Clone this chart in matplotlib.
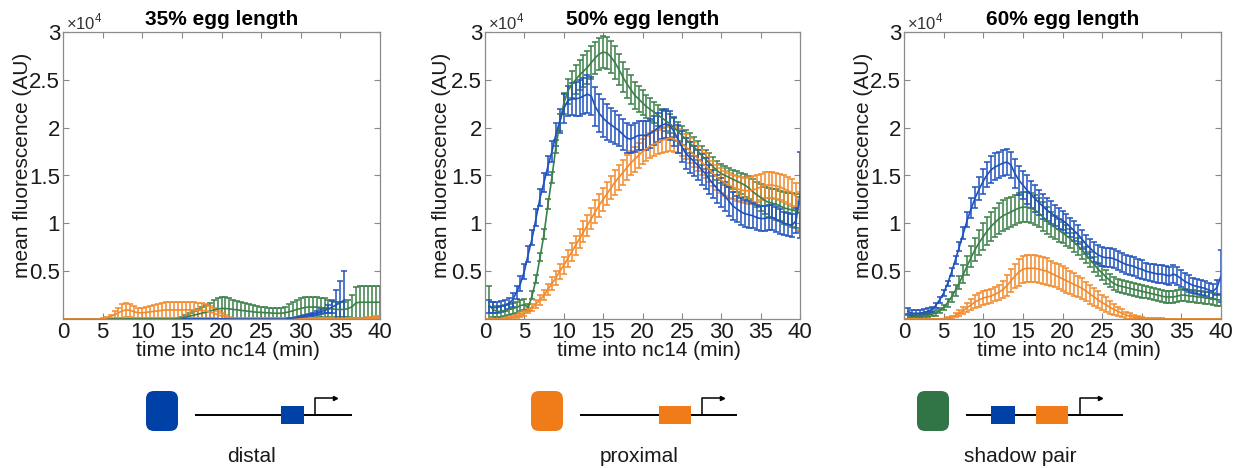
import numpy as np
import matplotlib.pyplot as plt
from matplotlib.patches import FancyBboxPatch, Rectangle

plt.rcParams['font.family'] = ['Liberation Sans', 'DejaVu Sans']
plt.rcParams['mathtext.fontset'] = 'custom'
plt.rcParams['mathtext.rm'] = 'Liberation Sans'

nan = np.nan
# time into nc14 (min), one frame every 30 s
t = np.arange(1, 81) * 0.5

# mean fluorescence in thousands of AU, 80 frames per series
# ---------------- 35% egg length ----------------
dist_35 = [nan]*10 + [nan]*10 + [nan]*9 + [0] + [0]*10 + [0]*10 + \
    [0, 0, 0, 0, 0, 0, 0.05, 0.1, 0.15, 0.2] + \
    [0.3, 0.4, 0.5, 0.6, 0.75, 0.9, 1.05, 1.25, 1.5, 1.7] + [2.0] + [nan]*9
dist_35_err = [nan]*29 + [0] + [0]*20 + \
    [0, 0, 0, 0, 0, 0, 0.05, 0.05, 0.1, 0.1] + \
    [0.1, 0.1, 0.15, 0.2, 0.25, 0.3, 0.4, 0.6, 1.5, 2.3] + [3.0] + [nan]*9
prox_35 = [0, 0, 0, 0, 0, 0, 0, 0, 0, 0.05,
           0.1, 0.25, 0.45, 0.65, 0.85, 0.95, 0.9, 0.75, 0.65, 0.65,
           0.7, 0.75, 0.8, 0.85, 0.9, 0.95, 0.95, 0.95, 0.95, 0.95,
           0.95, 0.95, 0.95, 0.9, 0.9, 0.85, 0.75, 0.6, 0.45, 0.3,
           0.2, 0.1, 0.05, 0.05, 0.05, 0.05, 0.05, 0.05, 0.05, 0.05] + [0.05]*20 + \
          [0.05, 0.05, 0.05, 0.05, 0.05, 0.05, 0.1, 0.1, 0.15, 0.15]
prox_35_err = [0, 0, 0, 0, 0, 0, 0, 0, 0, 0.05,
               0.1, 0.2, 0.35, 0.55, 0.7, 0.75, 0.7, 0.6, 0.55, 0.55,
               0.6, 0.65, 0.7, 0.75, 0.8, 0.8, 0.8, 0.8, 0.8, 0.8,
               0.8, 0.8, 0.8, 0.75, 0.75, 0.7, 0.6, 0.5, 0.4, 0.3,
               0.2, 0.15, 0.1, 0.1, 0.1, 0.1, 0.1, 0.1, 0.1, 0.1] + [0.1]*28 + [0.15, 0.15]
shad_35 = [0]*20 + [0, 0, 0, 0, 0, 0, 0, 0, 0.05, 0.1,
                    0.2, 0.3, 0.4, 0.5, 0.6, 0.7, 0.8, 0.95, 1.05, 1.1,
                    1.1, 1.05, 1.0, 0.95, 0.9, 0.85, 0.8, 0.75, 0.7, 0.7,
                    0.65, 0.65, 0.6, 0.6, 0.6, 0.65, 0.75, 0.85, 1.0, 1.1,
                    1.2, 1.25, 1.25, 1.25, 1.2, 1.15, 1.1, 1.05, 1.0, 1.0,
                    1.0, 1.1, 1.3, 1.7, 1.75, 1.75, 1.75, 1.75, 1.75, 1.75]
shad_35_err = [0]*20 + [0, 0, 0, 0, 0, 0, 0, 0, 0.05, 0.1,
                        0.2, 0.3, 0.4, 0.55, 0.7, 0.8, 0.9, 1.0, 1.1, 1.15,
                        1.15, 1.1, 1.0, 0.95, 0.9, 0.85, 0.8, 0.7, 0.65, 0.6,
                        0.6, 0.55, 0.5, 0.5, 0.55, 0.65, 0.8, 0.9, 1.0, 1.05,
                        1.1, 1.1, 1.1, 1.1, 1.0, 1.0, 0.9, 0.9, 0.8, 0.8,
                        0.8, 0.9, 1.2, 1.6, 1.65, 1.65, 1.7, 1.7, 1.7, 1.7]

# ---------------- 50% egg length ----------------
dist_50 = [1.3, 1.2, 1.2, 1.3, 1.4, 1.6, 2.0, 2.8, 3.7, 5.0,
           6.8, 8.5, 10.6, 12.7, 14.3, 16.0, 17.5, 19.3, 20.7, 22.0,
           22.8, 23.0, 23.0, 23.1, 23.3, 23.5, 23.3, 22.2, 21.5, 21.0,
           20.6, 20.3, 20.0, 19.7, 19.3, 18.9, 18.8, 19.0, 19.2, 19.2,
           19.2, 19.4, 19.7, 20.0, 20.3, 20.4, 20.2, 19.6, 18.8, 18.0,
           17.3, 16.9, 16.5, 16.1, 15.6, 15.2, 14.6, 14.1, 13.6, 13.2,
           12.8, 12.3, 11.8, 11.5, 11.2, 11.0, 10.9, 10.8, 10.6, 10.5,
           10.5, 10.6, 10.6, 10.4, 10.2, 10.0, 9.9, 9.8, 10.3, 13.0]
dist_50_err = [0.7, 0.6, 0.6, 0.6, 0.6, 0.6, 0.7, 0.7, 0.8, 0.8,
               0.8, 0.8, 0.9, 0.9, 1.0, 1.0, 1.1, 1.2, 1.3, 1.5,
               1.6, 1.7, 1.8, 1.9, 1.9, 2.0, 2.0, 2.0, 2.0, 2.0,
               1.9, 1.8, 1.7, 1.6, 1.6, 1.6, 1.5, 1.5, 1.5, 1.5,
               1.5, 1.5, 1.5, 1.5, 1.5, 1.5, 1.5, 1.5, 1.5, 1.6,
               1.6, 1.6, 1.6, 1.6, 1.6, 1.6, 1.5, 1.5, 1.5, 1.5,
               1.5, 1.5, 1.5, 1.4, 1.4, 1.4, 1.4, 1.3, 1.3, 1.3,
               1.3, 1.3, 1.3, 1.3, 1.3, 1.2, 1.2, 1.2, 1.3, 4.5]
prox_50 = [0.0, 0.0, 0.0, 0.0, 0.1, 0.1, 0.2, 0.3, 0.4, 0.6,
           0.9, 1.2, 1.6, 2.0, 2.5, 3.1, 3.7, 4.3, 5.0, 5.6,
           6.3, 7.0, 7.7, 8.4, 9.1, 9.8, 10.5, 11.2, 11.9, 12.5,
           13.1, 13.7, 14.3, 14.8, 15.3, 15.8, 16.3, 16.7, 17.1, 17.5,
           17.8, 18.1, 18.3, 18.5, 18.7, 18.8, 18.9, 18.8, 18.6, 18.3,
           18.0, 17.6, 17.2, 16.8, 16.4, 16.0, 15.6, 15.2, 14.8, 14.5,
           14.2, 14.0, 13.8, 13.6, 13.5, 13.4, 13.4, 13.5, 13.6, 13.8,
           14.0, 14.0, 14.0, 13.9, 13.8, 13.6, 13.4, 13.2, 12.8, 11.3]
prox_50_err = [0.0, 0.0, 0.0, 0.0, 0.05, 0.1, 0.1, 0.15, 0.2, 0.25,
               0.3, 0.35, 0.4, 0.5, 0.55, 0.6, 0.7, 0.75, 0.8, 0.85,
               0.9, 0.95, 1.0, 1.0, 1.1, 1.1, 1.1, 1.2, 1.2, 1.2,
               1.2, 1.2, 1.3, 1.3, 1.3, 1.3, 1.3, 1.3, 1.3, 1.3] + [1.3]*26 + \
              [1.4, 1.4, 1.4, 1.4] + [1.4]*9 + [2.0]
shad_50 = [1.5, 1.0, 0.8, 0.8, 0.9, 1.0, 1.1, 1.2, 1.4, 1.5,
           1.2, 2.5, 4.2, 6.5, 8.9, 12.0, 14.8, 18.0, 20.5, 22.5,
           23.8, 24.5, 25.0, 25.5, 25.9, 26.3, 26.8, 27.3, 27.7, 27.9,
           27.8, 27.4, 26.8, 26.1, 25.3, 24.6, 24.0, 23.4, 23.0, 22.6,
           22.2, 21.9, 21.6, 21.3, 21.0, 20.7, 20.4, 20.0, 19.6, 19.2,
           18.8, 18.4, 18.0, 17.6, 17.1, 16.7, 16.3, 15.9, 15.5, 15.2,
           15.0, 14.8, 14.6, 14.4, 14.2, 14.0, 13.7, 13.3, 13.0, 12.7,
           12.4, 12.2, 12.1, 12.0, 11.8, 11.6, 11.5, 11.4, 11.3, 11.0]
shad_50_err = [2.0, 0.8, 0.6, 0.6, 0.6, 0.6, 0.6, 0.6, 0.6, 0.6,
               0.4, 0.4, 0.4, 0.4, 0.5, 0.5, 0.6, 0.7, 0.9, 1.1,
               1.3, 1.4, 1.5, 1.6, 1.7, 1.7, 1.7, 1.7, 1.7, 1.7,
               1.7, 1.7, 1.7, 1.6, 1.6, 1.5, 1.5, 1.4, 1.4, 1.3,
               1.2, 1.2, 1.1, 1.1, 1.0, 1.0, 1.0, 1.0, 1.0, 1.0] + [1.0]*10 + \
              [1.0, 1.0, 1.0, 1.1, 1.1, 1.2, 1.2, 1.3, 1.3, 1.4,
               1.4, 1.5, 1.5, 1.6, 1.6, 1.7, 1.7, 1.8, 1.8, 1.8]

# ---------------- 60% egg length ----------------
dist_60 = [0.8, 0.6, 0.6, 0.6, 0.7, 0.8, 1.0, 1.4, 2.0, 2.7,
           3.7, 4.9, 6.2, 7.6, 9.0, 10.4, 11.6, 12.7, 13.6, 14.4,
           15.1, 15.6, 15.9, 16.1, 16.3, 16.4, 16.1, 15.2, 14.5, 14.0,
           13.5, 13.0, 12.6, 12.2, 11.8, 11.4, 11.1, 10.8, 10.5, 10.3,
           10.0, 9.6, 9.2, 8.8, 8.3, 7.8, 7.4, 7.0, 6.7, 6.5,
           6.4, 6.4, 6.3, 6.1, 5.9, 5.7, 5.6, 5.5, 5.3, 5.2,
           5.0, 4.9, 4.8, 4.7, 4.7, 4.6, 4.5, 4.7, 4.5, 4.2,
           3.9, 3.7, 3.5, 3.4, 3.3, 3.2, 3.0, 2.9, 3.3, 4.5]
dist_60_err = [0.3]*10 + [0.3, 0.4, 0.4, 0.5, 0.6, 0.8, 1.0, 1.1, 1.2, 1.3,
                          1.3, 1.4, 1.4, 1.4, 1.4, 1.4, 1.4, 1.5, 1.5, 1.5,
                          1.5, 1.4, 1.4, 1.3, 1.3, 1.2, 1.2, 1.1, 1.1, 1.0] + \
              [1.0]*20 + [0.9]*10 + [0.9, 0.9, 0.8, 0.8, 0.8, 0.8, 0.8, 0.8, 0.8, 2.7]
prox_60 = [0]*9 + [0.05,
           0.1, 0.2, 0.4, 0.6, 0.9, 1.2, 1.5, 1.8, 2.0, 2.2,
           2.3, 2.4, 2.6, 2.8, 3.1, 3.5, 4.0, 4.5, 4.9, 5.2,
           5.3, 5.3, 5.3, 5.2, 5.1, 5.0, 4.8, 4.6, 4.4, 4.2,
           4.0, 3.8, 3.6, 3.4, 3.2, 2.9, 2.6, 2.3, 2.0, 1.7,
           1.5, 1.2, 1.0, 0.8, 0.6, 0.4, 0.3, 0.2, 0.15, 0.1] + [0.05]*5 + [0]*15
prox_60_err = [0]*10 + [0.1, 0.15, 0.2, 0.3, 0.4, 0.5, 0.6, 0.7, 0.7, 0.7,
                        0.7, 0.7, 0.7, 0.8, 0.9, 1.1, 1.2, 1.3, 1.4, 1.4,
                        1.4, 1.4, 1.4, 1.4, 1.4, 1.4, 1.3, 1.3, 1.3, 1.3,
                        1.3, 1.2, 1.2, 1.1, 1.1, 1.0, 1.0, 0.9, 0.9, 0.8,
                        0.8, 0.7, 0.6, 0.5, 0.4, 0.35, 0.3, 0.2, 0.15, 0.1] + [0.05]*5 + [0]*15
shad_60 = [0.2, 0.2, 0.3, 0.3, 0.4, 0.4, 0.5, 0.6, 0.9, 1.2,
           1.7, 2.3, 3.0, 3.8, 4.7, 5.6, 6.5, 7.3, 8.0, 8.6,
           9.2, 9.7, 10.1, 10.5, 10.8, 11.0, 11.2, 11.4, 11.6, 11.7,
           11.7, 11.6, 11.4, 11.1, 10.7, 10.3, 9.9, 9.6, 9.3, 9.0,
           8.7, 8.4, 8.0, 7.6, 7.2, 6.7, 6.2, 5.7, 5.2, 4.8,
           4.4, 4.0, 3.7, 3.5, 3.4, 3.3, 3.2, 3.1, 3.0, 2.9,
           2.8, 2.7, 2.6, 2.5, 2.4, 2.3, 2.3, 2.3, 2.4, 2.5,
           2.5, 2.4, 2.4, 2.3, 2.3, 2.2, 2.2, 2.1, 2.0, 2.0]
shad_60_err = [0.2, 0.2, 0.2, 0.2, 0.2, 0.2, 0.2, 0.3, 0.3, 0.3,
               0.4, 0.5, 0.6, 0.7, 0.9, 1.0, 1.1, 1.2, 1.3, 1.4,
               1.5, 1.5, 1.5, 1.6, 1.6, 1.6, 1.6, 1.6, 1.6, 1.6,
               1.6, 1.6, 1.6, 1.5, 1.5, 1.4, 1.3, 1.2, 1.2, 1.1,
               1.1, 1.0, 1.0, 0.9, 0.9, 0.8, 0.8, 0.8, 0.7, 0.7] + [0.7]*10 + [0.6]*20

panels = ['35% egg length', '50% egg length', '60% egg length']
means = [(shad_35, prox_35, dist_35), (shad_50, prox_50, dist_50), (shad_60, prox_60, dist_60)]
errs = [(shad_35_err, prox_35_err, dist_35_err), (shad_50_err, prox_50_err, dist_50_err),
        (shad_60_err, prox_60_err, dist_60_err)]
line_colors = ['#3b8049', '#f28a2a', '#1f52bd']   # shadow pair, proximal, distal

constructs = ['distal', 'proximal', 'shadow pair']
construct_colors = ['#0041a8', '#f07c19', '#317547']

yticks = [0.5, 1, 1.5, 2, 2.5, 3]
xticks = [0, 5, 10, 15, 20, 25, 30, 35, 40]

W, H = 1237, 468
fig = plt.figure(figsize=(W / 100, H / 100), dpi=100)

# axes boxes in pixels: left, right
boxes = [(63, 380), (485, 800), (904, 1221)]
ylab_x = [-0.097, -0.108, -0.099]
top_px, bot_px = 32, 319
for i, (l, r) in enumerate(boxes):
    ax = fig.add_axes([l / W, 1 - bot_px / H, (r - l) / W, (bot_px - top_px) / H])
    for m, e, c in zip(means[i], errs[i], line_colors):
        ax.errorbar(t, np.array(m) * 1000, yerr=np.array(e) * 1000, color=c, lw=1.2,
                    elinewidth=1.1, capsize=2.2, capthick=1.1)
    ax.set_xlim(0, 40)
    ax.set_ylim(0, 30000)
    ax.set_xticks(xticks)
    ax.set_yticks([v * 1e4 for v in yticks])
    ax.set_yticklabels(['%g' % v for v in yticks])
    ax.tick_params(direction='in', top=True, right=True, length=4, width=0.8,
                   color='#888888', labelsize=16, labelcolor='#1a1a1a', pad=2)
    for s in ax.spines.values():
        s.set_color('#8c8c8c')
        s.set_linewidth(0.9)
    ax.set_title(panels[i], fontsize=15, fontweight='bold', pad=5)
    ax.set_xlabel('time into nc14 (min)', fontsize=15, color='#1a1a1a')
    ax.set_ylabel('mean fluorescence (AU)', fontsize=15, color='#1a1a1a')
    ax.xaxis.set_label_coords(0.52, -0.075)
    ax.yaxis.set_label_coords(ylab_x[i], 0.535)
    ax.text(0.008, 1.0, r'$\times10^{4}$', transform=ax.transAxes, fontsize=12,
            color='#333333', va='bottom', ha='left')

# construct cartoons under the panels
lg = fig.add_axes([0, 0, 1, 1], zorder=-1)
lg.set_xlim(0, W)
lg.set_ylim(H, 0)
lg.axis('off')

def promoter(x, y):
    lg.plot([x, x, x + 20], [y, y - 17, y - 17], color='black', lw=1.1)
    lg.plot([x + 20], [y - 17], marker='>', ms=3, color='black')

cart_x = [146, 531, 917]
for k, (name, col) in enumerate(zip(constructs, construct_colors)):
    x0 = cart_x[k]
    lg.add_patch(FancyBboxPatch((x0, 391), 32, 40, boxstyle='round,pad=0,rounding_size=8',
                                fc=col, ec='none'))
    lg.plot([x0 + 50, x0 + 205], [415, 415], color='black', lw=1.4)
    if name == 'distal':
        lg.add_patch(Rectangle((x0 + 135, 406), 23, 18, fc=construct_colors[0], ec='none', zorder=3))
        promoter(x0 + 169, 415)
    elif name == 'proximal':
        lg.add_patch(Rectangle((x0 + 128, 406), 32, 18, fc=construct_colors[1], ec='none', zorder=3))
        promoter(x0 + 171, 415)
    else:
        lg.add_patch(Rectangle((x0 + 74, 406), 24, 18, fc=construct_colors[0], ec='none', zorder=3))
        lg.add_patch(Rectangle((x0 + 119, 406), 32, 18, fc=construct_colors[1], ec='none', zorder=3))
        promoter(x0 + 163, 415)
    lg.text(x0 + [106, 108, 103][k], 456, name, fontsize=15, ha='center', va='center',
            color='#1a1a1a')

fig.savefig('out.png', dpi=100)
